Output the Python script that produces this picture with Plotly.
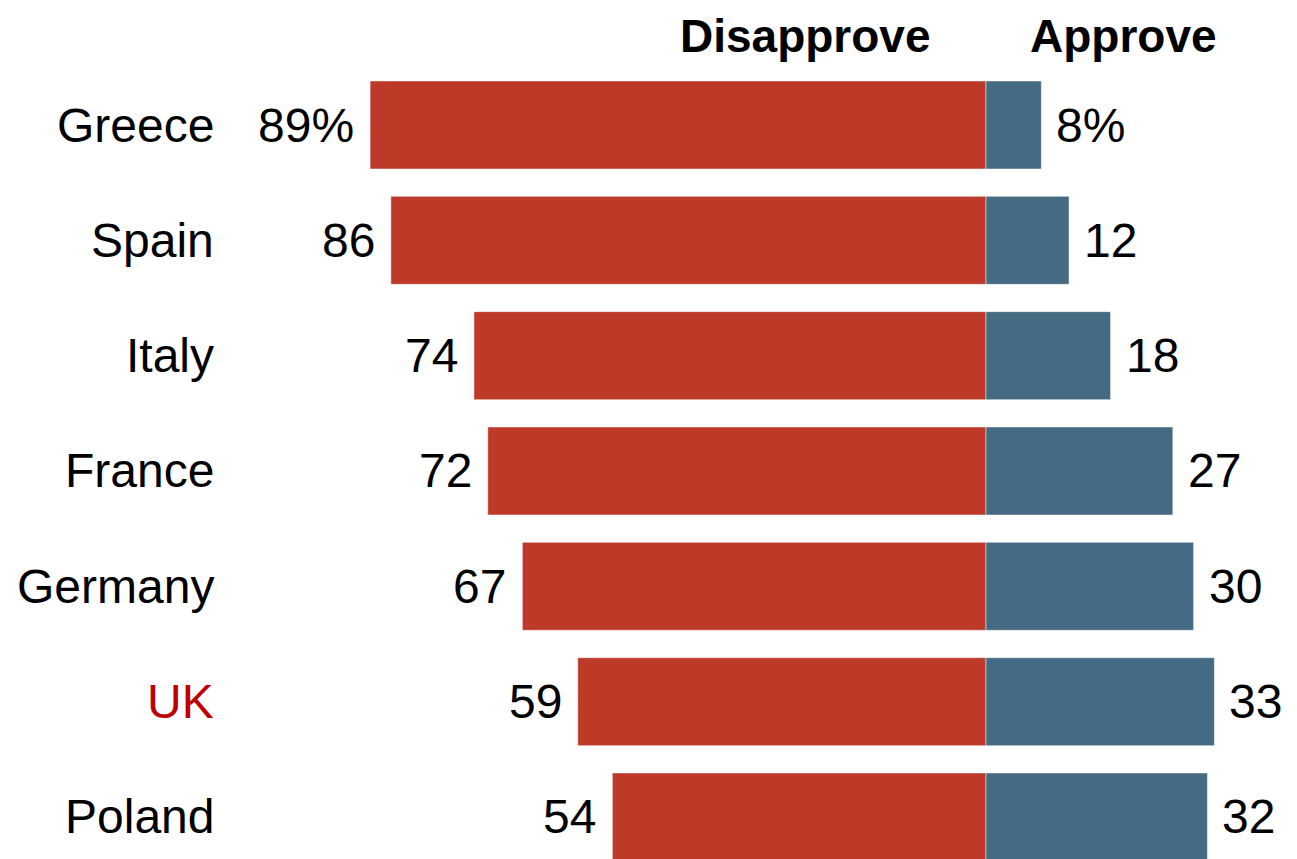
import plotly.graph_objects as go

countries = ["Greece", "Spain", "Italy", "France", "Germany", "UK", "Poland"]
disapprove = [89, 86, 74, 72, 67, 59, 54]
approve = [8, 12, 18, 27, 30, 33, 32]
dis_labels = ["89%", "86", "74", "72", "67", "59", "54"]
app_labels = ["8%", "12", "18", "27", "30", "33", "32"]
label_colors = ["#000000"] * 5 + ["#C00000", "#000000"]

RED = "#BD3A29"
BLUE = "#456A83"
FONT = "Liberation Sans, Arial, sans-serif"

W, H = 1297, 859
OFF = 8  # default page body margin
PX_PER_UNIT = 6.92
ZERO_X = 986 - OFF
ROW = 115.33
FIRST_Y = 125 - OFF

ypos = list(range(len(countries)))

fig = go.Figure()
fig.add_trace(go.Bar(
    y=ypos, x=[-v for v in disapprove], orientation="h",
    marker=dict(color=RED, line=dict(color="rgba(255,255,255,0.6)", width=0.8)),
    width=0.763, name="Disapprove", hoverinfo="skip",
))
fig.add_trace(go.Bar(
    y=ypos, x=approve, orientation="h",
    marker=dict(color=BLUE, line=dict(color="rgba(255,255,255,0.6)", width=0.8)),
    width=0.763, name="Approve", hoverinfo="skip",
))

ann = []
for i, c in enumerate(countries):
    ann.append(dict(x=208 / W, xref="paper", xanchor="right", y=i, yref="y",
                    text=c, showarrow=False,
                    font=dict(family=FONT, size=48, color=label_colors[i])))
    ann.append(dict(x=-disapprove[i], xref="x", xanchor="right", y=i, yref="y",
                    text=dis_labels[i], showarrow=False, xshift=-14,
                    font=dict(family=FONT, size=48, color="#000000")))
    ann.append(dict(x=approve[i], xref="x", xanchor="left", y=i, yref="y",
                    text=app_labels[i], showarrow=False, xshift=13,
                    font=dict(family=FONT, size=48, color="#000000")))

ann.append(dict(x=(805 - OFF) / W, xref="paper", xanchor="center",
                y=1, yref="paper", yanchor="top",
                text="<b>Disapprove</b>", showarrow=False,
                font=dict(family=FONT, size=46, color="#000000")))
ann.append(dict(x=(1123 - OFF) / W, xref="paper", xanchor="center",
                y=1, yref="paper", yanchor="top",
                text="<b>Approve</b>", showarrow=False,
                font=dict(family=FONT, size=46, color="#000000")))

fig.update_layout(
    width=W, height=H,
    margin=dict(l=0, r=0, t=0, b=0),
    barmode="relative",
    showlegend=False,
    plot_bgcolor="white", paper_bgcolor="white",
    xaxis=dict(range=[-ZERO_X / PX_PER_UNIT, (W - ZERO_X) / PX_PER_UNIT],
               visible=False, fixedrange=True),
    yaxis=dict(range=[(H - FIRST_Y) / ROW, -FIRST_Y / ROW],
               visible=False, fixedrange=True),
    annotations=ann,
)

fig.write_html("out.html")
